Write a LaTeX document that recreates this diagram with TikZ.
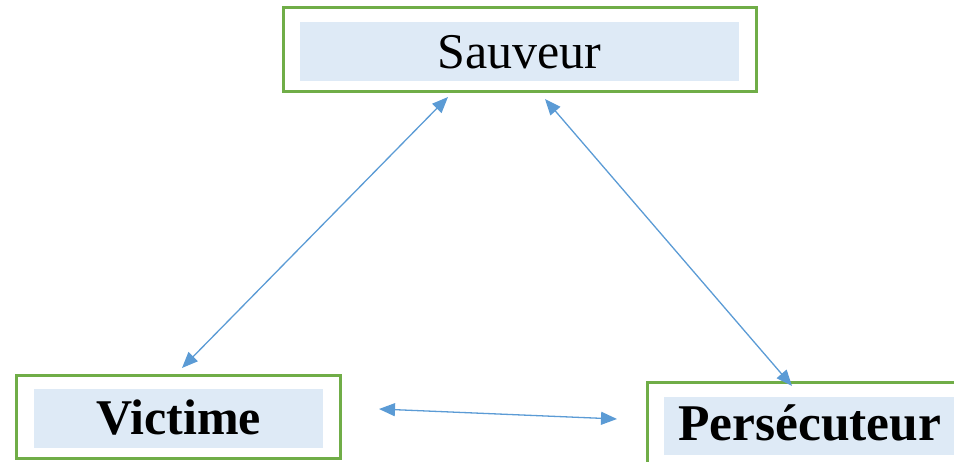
\documentclass[tikz,border=0pt]{standalone}
\usepackage{fontspec}
\setmainfont{Liberation Serif}
\usetikzlibrary{arrows.meta}
\definecolor{boxgreen}{HTML}{70AD47}
\definecolor{boxfill}{HTML}{DEEAF6}
\definecolor{arrowblue}{HTML}{5B9BD5}
\tikzset{
  outerbox/.style={draw=boxgreen, line width=3.0pt, fill=white},
  innerbox/.style={fill=boxfill},
  lbl/.style={font=\fontsize{50}{60}\selectfont, inner sep=0pt},
  link/.style={draw=arrowblue, line width=1.3pt, {Triangle[length=16pt,width=13pt]}-{Triangle[length=16pt,width=13pt]}}
}
\begin{document}
\begin{tikzpicture}[x=1pt,y=-1pt]
\useasboundingbox (0,0) rectangle (954,462);
\clip (0,0) rectangle (954,462);
% Sauveur
\draw[outerbox] (283,8) rectangle (756,92);
\fill[innerbox] (300,22) rectangle (739,81);
\node[lbl, anchor=base] (sauveur) at (519.5,69) {Sauveur};
% Victime
\draw[outerbox] (16,376) rectangle (340,459);
\fill[innerbox] (34,389) rectangle (323,448);
\node[lbl, anchor=base, font=\fontsize{50}{60}\selectfont\bfseries] (victime) at (178.5,435) {Victime};
% Persecuteur
\draw[outerbox] (647,383) rectangle (980,480);
\fill[innerbox] (664,397) rectangle (960,455);
\node[lbl, anchor=base west, font=\fontsize{51.5}{60}\selectfont\bfseries] (pers) at (678,441) {Persécuteur};
% connector ends
\coordinate (sv-l) at (448,97);
\coordinate (vi-t) at (182,368);
\coordinate (sv-r) at (545,99);
\coordinate (pe-t) at (792,386);
\coordinate (vi-r) at (379,409);
\coordinate (pe-l) at (617,419);
\draw[link] (sv-l) -- (vi-t);
\draw[link] (sv-r) -- (pe-t);
\draw[link] (vi-r) -- (pe-l);
\end{tikzpicture}
\end{document}
